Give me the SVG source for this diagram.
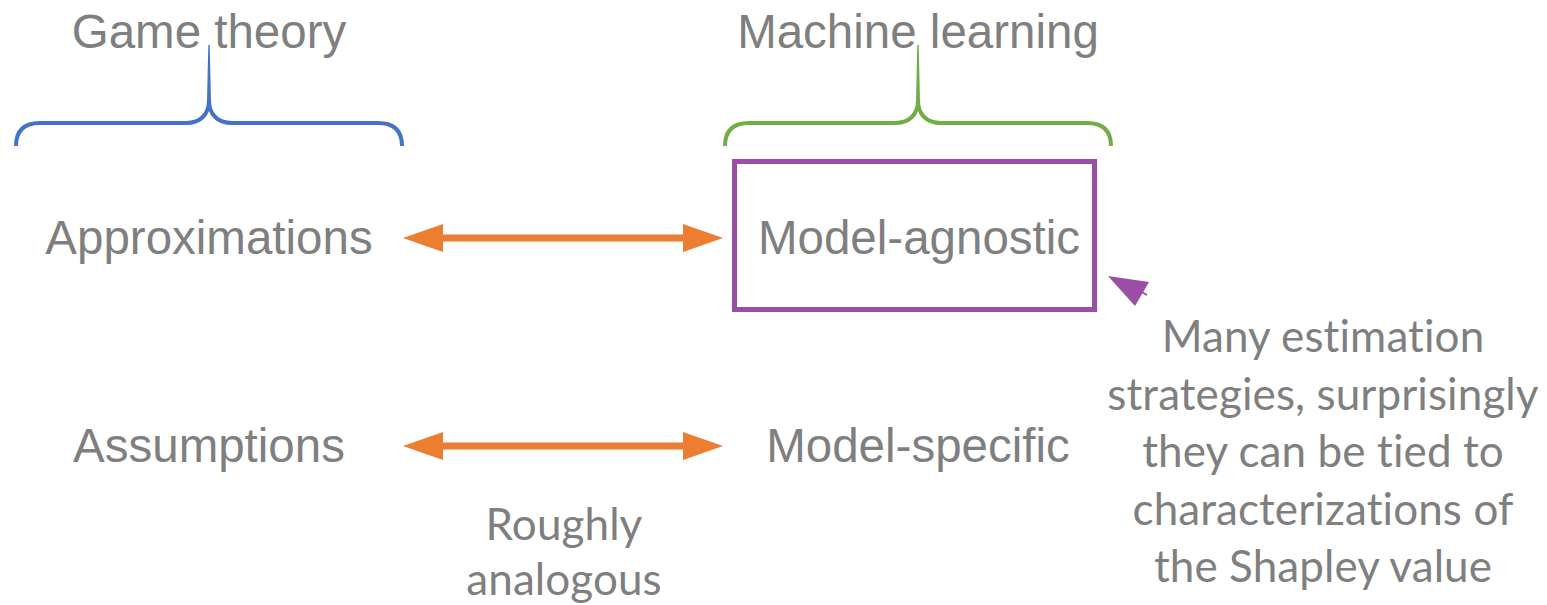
<svg xmlns="http://www.w3.org/2000/svg" width="1547" height="605" viewBox="0 0 1547 605">
  <style>
    .lbl { font-family: "Liberation Sans", Arial, sans-serif; font-size: 47.5px; fill: #7f7f7f; text-anchor: middle; }
    .note { font-family: Lato, "Open Sans", sans-serif; font-size: 44px; fill: #7f7f7f; text-anchor: middle; font-variant-ligatures: none; font-feature-settings: "liga" 0, "clig" 0, "dlig" 0; letter-spacing: 0.1px; text-rendering: optimizeSpeed; }
    .brace { fill: none; stroke-width: 4; stroke-linecap: butt; }
    .arrow { stroke: #ED7D31; stroke-width: 7; fill: none; }
  </style>
  <defs>
    <!-- triangular head; the shaft stops inside it so the tip stays sharp -->
    <marker id="orangeHead" viewBox="0 0 40 28" refX="18" refY="14" markerWidth="40" markerHeight="28" markerUnits="userSpaceOnUse" orient="auto-start-reverse">
      <path d="M0,0 L40,14 L0,28 Z" fill="#ED7D31"/>
    </marker>
  </defs>

  <!-- Game theory brace and title -->
  <g id="game-theory">
    <text class="lbl" x="209" y="48">Game theory</text>
    <path class="brace" stroke="#4472C4" d="M16,146 C16,131 24,123 40,123 L186,123 C201,123 209,114 209,100 M402,146 C402,131 394,123 378,123 L232,123 C217,123 209,114 209,100"/>
    <path fill="#4472C4" d="M207,101 L211,101 L209.7,45 L208.3,45 Z"/>
  </g>

  <!-- Machine learning brace and title -->
  <g id="machine-learning">
    <text class="lbl" x="918" y="48">Machine learning</text>
    <path class="brace" stroke="#70AD47" d="M725,146 C725,131 733,123 749,123 L895,123 C910,123 918,114 918,100 M1111,146 C1111,131 1103,123 1087,123 L941,123 C926,123 918,114 918,100"/>
    <path fill="#70AD47" d="M916,101 L920,101 L918.7,45 L917.3,45 Z"/>
  </g>

  <g id="approximations">
    <text class="lbl" x="209" y="254">Approximations</text>
  </g>

  <g id="model-agnostic">
    <rect x="734.5" y="161.5" width="360" height="148" fill="none" stroke="#9A4EA6" stroke-width="5"/>
    <text class="lbl" x="919" y="254">Model-agnostic</text>
  </g>

  <g id="assumptions">
    <text class="lbl" x="209" y="462">Assumptions</text>
  </g>

  <g id="model-specific">
    <text class="lbl" x="918" y="462">Model-specific</text>
  </g>

  <g id="analogy-note">
    <text class="note" x="564" y="540">Roughly</text>
    <text class="note" x="564" y="595">analogous</text>
  </g>

  <g id="estimation-note">
    <text class="note" x="1323" y="352">Many estimation</text>
    <text class="note" x="1323" y="410">strategies, surprisingly</text>
    <text class="note" x="1323" y="467">they can be tied to</text>
    <text class="note" x="1323" y="525">characterizations of</text>
    <text class="note" x="1323" y="582">the Shapley value</text>
  </g>

  <!-- connectors -->
  <g id="connectors">
    <line class="arrow" x1="425" y1="238" x2="701" y2="238" marker-start="url(#orangeHead)" marker-end="url(#orangeHead)"/>
    <line class="arrow" x1="425" y1="446" x2="701" y2="446" marker-start="url(#orangeHead)" marker-end="url(#orangeHead)"/>
    <line x1="1147" y1="295" x2="1140" y2="291" stroke="#9A4EA6" stroke-width="2"/>
    <path d="M1108,276 L1149,282 L1135,306 Z" fill="#9A4EA6"/>
  </g>
</svg>
